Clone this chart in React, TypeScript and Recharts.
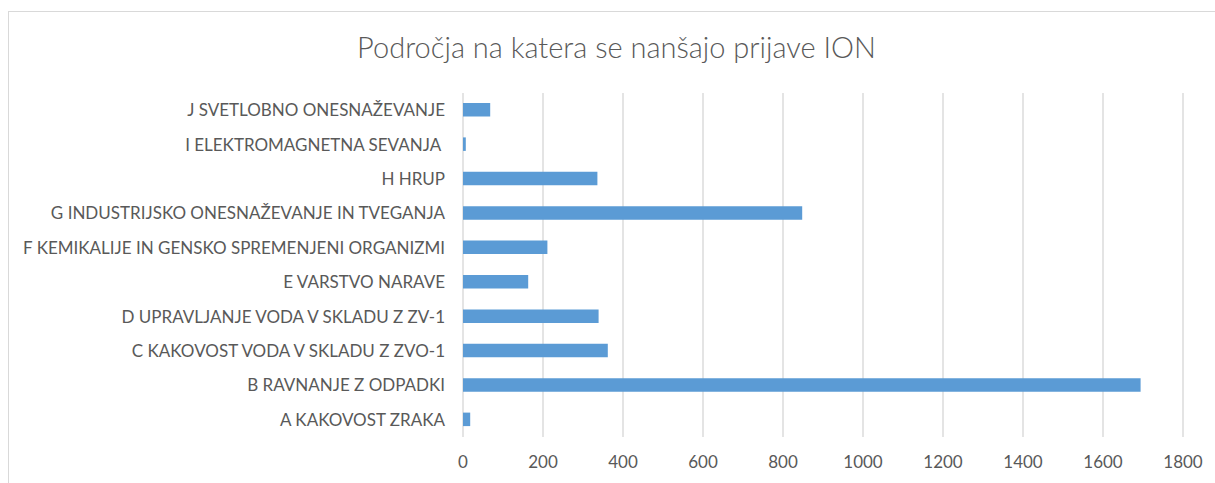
import React from 'react';
import { BarChart, Bar, XAxis, YAxis, CartesianGrid } from 'recharts';

const categories = [
  'A KAKOVOST ZRAKA',
  'B RAVNANJE Z ODPADKI',
  'C KAKOVOST VODA V SKLADU Z ZVO-1',
  'D UPRAVLJANJE VODA V SKLADU Z ZV-1',
  'E VARSTVO NARAVE',
  'F KEMIKALIJE IN GENSKO SPREMENJENI ORGANIZMI',
  'G INDUSTRIJSKO ONESNAŽEVANJE IN TVEGANJA',
  'H HRUP',
  'I ELEKTROMAGNETNA SEVANJA\u00A0',
  'J SVETLOBNO ONESNAŽEVANJE',
];
const values = [18, 1694, 362, 339, 163, 211, 848, 336, 7, 68];
const xTicks = [0, 200, 400, 600, 800, 1000, 1200, 1400, 1600, 1800];
const title = 'Področja na katera se nanšajo prijave ION';

const data = categories.map((name, i) => ({ name, value: values[i] }));

const FONT = 'Lato, "Liberation Sans", sans-serif';
const TEXT = '#595959';

const YTick = (props: any) => {
  const { x, y, payload } = props;
  return (
    <text x={x} y={y} dy="0.35em" textAnchor="end" fill={TEXT} fontSize={17} fontFamily={FONT}>
      {payload.value}
    </text>
  );
};

const XTick = (props: any) => {
  const { x, y, payload } = props;
  return (
    <text x={x} y={y + 25} dy="0.35em" textAnchor="middle" fill={TEXT} fontSize={17} fontFamily={FONT}>
      {payload.value}
    </text>
  );
};

export default function App() {
  return (
    <div
      style={{
        position: 'absolute',
        left: 8,
        top: 11,
        width: 1207,
        height: 472,
        overflow: 'hidden',
        background: '#fff',
        borderTop: '1.5px solid #D9D9D9',
        borderLeft: '1.5px solid #D9D9D9',
        boxSizing: 'border-box',
      }}
    >
      <div
        style={{
          position: 'absolute',
          left: 0,
          top: 19,
          width: 1215,
          textAlign: 'center',
          fontFamily: FONT,
          fontWeight: 300,
          fontSize: 29,
          lineHeight: '32px',
          color: TEXT,
          whiteSpace: 'nowrap',
        }}
      >
        {title}
      </div>
      <div style={{ position: 'absolute', left: -1.5, top: -1.5 }}>
        <BarChart
          width={1207}
          height={472}
          data={data}
          layout="vertical"
          margin={{ top: 82, right: 32, bottom: 16, left: 0 }}
        >
          <CartesianGrid horizontal={false} vertical={true} stroke="#D9D9D9" strokeWidth={1.4} />
          <XAxis
            type="number"
            domain={[0, 1800]}
            ticks={xTicks}
            axisLine={false}
            tickLine={false}
            tickSize={0}
            tickMargin={0}
            height={30}
            tick={<XTick />}
            interval={0}
          />
          <YAxis
            type="category"
            dataKey="name"
            reversed
            width={455}
            axisLine={false}
            tickLine={false}
            tickSize={0}
            tickMargin={18}
            tick={<YTick />}
            interval={0}
          />
          <Bar dataKey="value" fill="#5B9BD5" barSize={13.5} isAnimationActive={false} />
        </BarChart>
      </div>
    </div>
  );
}
